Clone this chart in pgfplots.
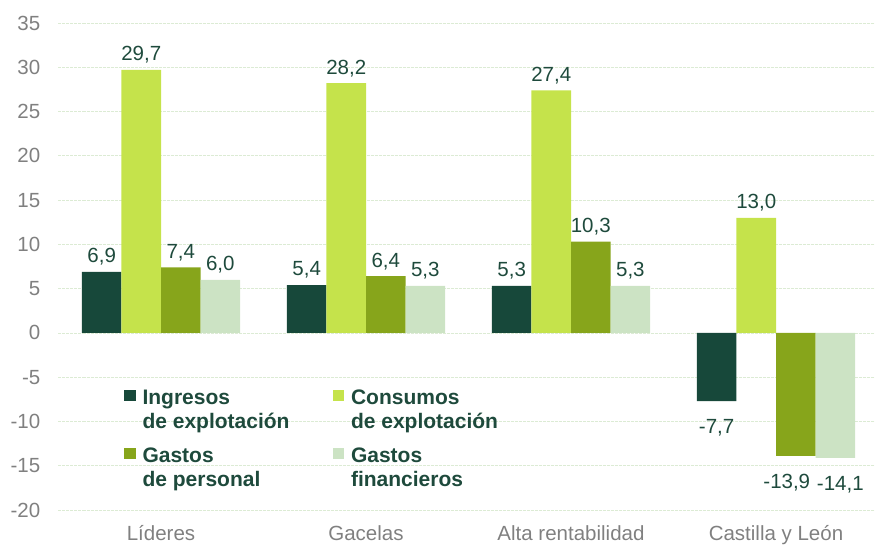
\documentclass[border=0pt]{standalone}
\usepackage{pgfplots}
\pgfplotsset{compat=1.18}
\usetikzlibrary{calc}
\usepackage{fontspec}
\setmainfont{Liberation Sans}
\definecolor{c1}{HTML}{17483A}
\definecolor{c2}{HTML}{C5E34B}
\definecolor{c3}{HTML}{87A51B}
\definecolor{c4}{HTML}{CCE3C4}
\definecolor{txt}{HTML}{1E4A3C}
\definecolor{tickc}{HTML}{808080}
\definecolor{gridc}{HTML}{DCEBD4}
\begin{document}
\begin{tikzpicture}[font=\fontsize{20.5}{24.5}\selectfont]
\begin{axis}[
  scale only axis, width=820pt, height=487pt,
  ybar=0pt, bar width=0.193,
  xmin=-0.5, xmax=3.5, ymin=-20, ymax=35,
  ytick={-20,-15,...,35},
  xtick={0,1,2,3},
  xticklabels={Líderes,Gacelas,Alta rentabilidad,Castilla y León},
  axis line style={draw=none},
  major tick length=0pt,
  ymajorgrids, grid style={gridc, line width=0.8pt, dash pattern=on 3pt off 1pt},
  /pgf/number format/assume math mode=true,
  yticklabel style={text=tickc, anchor=east, inner sep=0pt, xshift=-18pt},
  xticklabel style={text=tickc, anchor=north, inner sep=0pt, text height=14.5pt, text depth=4pt, yshift=-16pt},
  visualization depends on={rawy \as \rawy},
  nodes near coords={\pgfmathprintnumber[fixed,fixed zerofill,precision=1,use comma,assume math mode=true]{\pgfplotspointmeta}},
  nodes near coords style={text=txt, inner sep=0pt, text height=14.5pt, text depth=0pt,
    yshift={ifthenelse(\rawy<0,-18,9)},
    xshift={ifthenelse(\rawy<-14,5,ifthenelse(\rawy<-13.5,-9,0))}},
  legend columns=2,
  legend cell align=left,
  legend image code/.code={\fill[#1] (0pt,-4pt) rectangle (11.5pt,7.5pt);},
  legend style={at={(0.0799,0.2495)}, anchor=north west, draw=none, fill=none,
    inner sep=0pt, outer sep=0pt, row sep=40pt,
    font=\fontsize{21}{23.5}\selectfont\bfseries, text=txt,
    nodes={inner sep=0pt},
    /tikz/every odd column/.append style={column sep=7pt},
    /tikz/every even column/.append style={column sep=43pt}},
]
\addplot[fill=c1, draw=none] coordinates {(0,6.9) (1,5.4) (2,5.3) (3,-7.7)};
\addplot[fill=c2, draw=none] coordinates {(0,29.7) (1,28.2) (2,27.4) (3,13.0)};
\addplot[fill=c3, draw=none] coordinates {(0,7.4) (1,6.4) (2,10.3) (3,-13.9)};
\addplot[fill=c4, draw=none] coordinates {(0,6.0) (1,5.3) (2,5.3) (3,-14.1)};
\addlegendentry{\begin{tabular}[t]{@{}l@{}}Ingresos\\de explotación\end{tabular}}
\addlegendentry{\begin{tabular}[t]{@{}l@{}}Consumos\\de explotación\end{tabular}}
\addlegendentry{\begin{tabular}[t]{@{}l@{}}Gastos\\de personal\end{tabular}}
\addlegendentry{\begin{tabular}[t]{@{}l@{}}Gastos\\financieros\end{tabular}}
\end{axis}
\pgfresetboundingbox
\path ($(current axis.south west)+(-58.5pt,-34pt)$) rectangle ($(current axis.north east)+(-3.5pt,23pt)$);
\end{tikzpicture}
\end{document}
